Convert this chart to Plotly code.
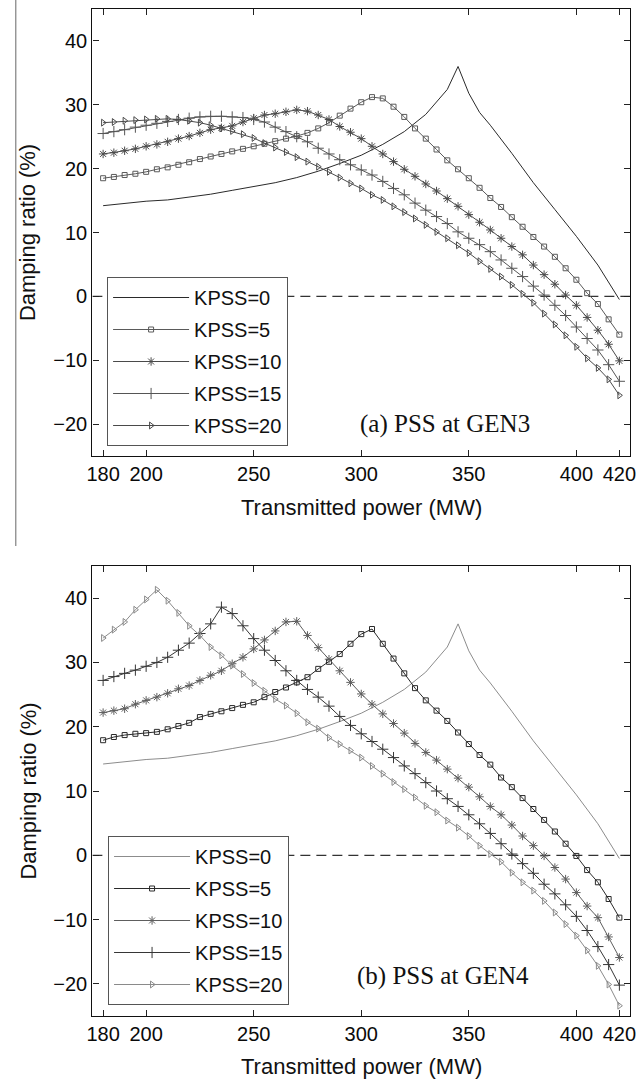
import plotly.graph_objects as go

# Transmitted power (MW) at the marked operating points
power = list(range(180, 425, 5))

# KPSS = 0 (no PSS) – same base case in both panels
power_k0 = [180, 190, 200, 210, 220, 230, 240, 250, 260, 270, 280, 290, 300, 310,
            320, 330, 340, 345, 350, 355, 360, 370, 380, 390, 400, 410, 420]
kpss0 = [14.2, 14.6, 14.9, 15.1, 15.5, 16.0, 16.6, 17.2, 17.8, 18.6, 19.6, 20.8, 22.1, 23.8,
         25.8, 28.5, 32.4, 36.0, 31.8, 28.8, 26.8, 22.4, 17.8, 13.6, 9.4, 4.9, -0.5]

# (a) PSS at GEN3 – damping ratio (%)
a_k5 = [18.5, 18.7, 19.0, 19.2, 19.5, 19.9, 20.2, 20.6, 21.0, 21.5, 21.9, 22.3, 22.7, 23.1, 23.5,
        23.9, 24.3, 24.7, 25.1, 25.6, 26.3, 27.2, 28.3, 29.4, 30.4,
        31.2, 31.0, 29.7, 28.1, 26.3, 24.7, 23.0, 21.3, 19.9, 18.5, 17.0, 15.4, 14.0, 12.4, 10.9,
        9.3, 7.8, 6.2, 4.4, 2.6, 0.5, -1.2, -3.6, -6.0]
a_k10 = [22.3, 22.5, 22.8, 23.1, 23.5, 23.8, 24.2, 24.7, 25.1, 25.6, 26.1, 26.4, 26.7, 27.3, 27.9,
         28.4, 28.6, 28.9, 29.2, 29.0, 28.4, 27.7, 26.6, 25.7, 24.7,
         23.5, 22.3, 21.1, 19.9, 18.8, 17.6, 16.5, 15.3, 14.1, 12.8, 11.6, 10.4, 9.1, 7.8, 6.5,
         4.9, 3.4, 1.9, 0.2, -1.4, -3.3, -5.3, -7.5, -10.1]
a_k15 = [25.5, 25.8, 26.1, 26.5, 26.8, 27.1, 27.4, 27.7, 27.9, 28.1, 28.2, 28.2, 28.1, 28.0, 27.7,
         27.3, 26.5, 25.8, 25.0, 24.2, 23.2, 22.3, 21.4, 20.6, 19.8,
         19.0, 18.0, 16.9, 15.9, 14.6, 13.5, 12.5, 11.4, 10.1, 9.1, 8.1, 7.0, 5.7, 4.4, 3.1,
         1.6, 0.2, -1.4, -3.0, -4.8, -6.6, -8.4, -10.7, -13.3]
a_k20 = [27.2, 27.3, 27.5, 27.6, 27.7, 27.8, 27.8, 27.7, 27.5, 27.2, 26.8, 26.3, 25.9, 25.4, 24.8,
         24.0, 23.3, 22.6, 21.8, 21.1, 20.3, 19.5, 18.6, 17.7, 16.9,
         15.9, 15.1, 14.1, 13.2, 12.2, 11.2, 10.1, 9.1, 8.0, 6.8, 5.5, 4.3, 3.1, 1.8, 0.4,
         -1.0, -2.7, -4.4, -6.1, -7.9, -9.7, -11.2, -13.0, -15.5]

# (b) PSS at GEN4 – damping ratio (%)
b_k5 = [17.9, 18.4, 18.7, 18.9, 19.0, 19.2, 19.6, 20.1, 20.6, 21.5, 22.0, 22.4, 22.9, 23.4, 23.8,
        24.6, 25.4, 26.1, 26.9, 27.7, 29.0, 30.1, 31.3, 32.9, 34.4,
        35.2, 32.9, 30.6, 28.3, 26.0, 24.1, 22.5, 20.9, 19.1, 17.3, 15.6, 14.1, 12.1, 10.6, 8.9,
        7.2, 5.5, 3.7, 1.8, -0.1, -2.3, -4.2, -6.8, -9.7]
b_k10 = [22.2, 22.5, 22.8, 23.5, 24.1, 24.6, 25.2, 25.9, 26.4, 27.2, 28.0, 28.7, 29.8, 30.8, 32.1,
         33.5, 34.9, 36.3, 36.4, 34.2, 32.3, 30.5, 28.7, 26.9, 25.1,
         23.5, 22.0, 20.5, 19.0, 17.4, 16.0, 14.8, 13.4, 12.0, 10.6, 9.1, 7.6, 6.3, 4.7, 3.0,
         1.5, -0.1, -1.9, -3.7, -5.8, -7.9, -9.7, -12.7, -15.9]
b_k15 = [27.2, 27.8, 28.3, 28.8, 29.4, 30.0, 30.8, 31.9, 33.0, 34.5, 36.0, 38.6, 37.6, 35.7, 33.7,
         31.9, 30.3, 28.7, 27.2, 25.8, 24.6, 23.2, 21.6, 20.2, 18.9,
         17.7, 16.5, 15.2, 13.9, 12.7, 11.3, 10.0, 8.8, 7.6, 6.3, 4.9, 3.4, 1.8, 0.2, -1.3,
         -2.8, -4.5, -6.0, -7.7, -9.5, -11.7, -14.2, -17.0, -20.2]
b_k20 = [33.8, 35.1, 36.3, 38.2, 39.8, 41.3, 39.6, 37.7, 35.7, 34.2, 32.4, 31.1, 29.5, 28.2, 26.8,
         25.6, 24.3, 23.3, 22.1, 20.7, 19.7, 18.3, 17.3, 16.3, 15.2,
         13.9, 12.7, 11.4, 10.3, 9.0, 7.7, 6.7, 5.4, 4.3, 3.0, 1.5, 0.2, -1.0, -2.7, -4.2,
         -5.5, -7.1, -8.9, -10.7, -12.5, -14.8, -17.2, -20.1, -23.4]

names = ["KPSS=0", "KPSS=5", "KPSS=10", "KPSS=15", "KPSS=20"]
x_ticks = [180, 200, 250, 300, 350, 400, 420]
y_ticks = [-20, -10, 0, 10, 20, 30, 40]

W, H = 644, 1082
SANS = "Liberation Sans, Arial, Helvetica, sans-serif"
SERIF = "Liberation Serif, Times New Roman, serif"


def fx(px):
    return px / W


def fy(py):
    return 1 - py / H


symbols = [None, "square-open", "asterisk-open", "cross-thin-open", "triangle-right-open"]
sizes = [0, 5, 7, 8, 6]

panels = [
    dict(series=[kpss0, a_k5, a_k10, a_k15, a_k20],
         colors=["#2a2a2a", "#5a5a5a", "#4a4a4a", "#555555", "#4a4a4a"],
         xa="x", ya="y", legend="legend"),
    dict(series=[kpss0, b_k5, b_k10, b_k15, b_k20],
         colors=["#8c8c8c", "#2a2a2a", "#5e5e5e", "#363636", "#8a8a8a"],
         xa="x2", ya="y2", legend="legend2"),
]

fig = go.Figure()
for panel in panels:
    for i, (name, vals) in enumerate(zip(names, panel["series"])):
        col = panel["colors"][i]
        xs = power_k0 if i == 0 else power
        tr = dict(x=xs, y=vals, name=name, xaxis=panel["xa"], yaxis=panel["ya"],
                  legend=panel["legend"], legendgroup=panel["legend"] + name,
                  line=dict(color=col, width=1.0))
        if i == 0:
            tr["mode"] = "lines"
        else:
            tr["mode"] = "lines+markers"
            tr["marker"] = dict(symbol=symbols[i], size=sizes[i], color=col,
                                line=dict(color=col, width=1))
        fig.add_trace(go.Scatter(**tr))

x_dom = [fx(88), fx(636)]
top_dom = [fy(456), fy(9)]
bot_dom = [fy(1016), fy(566)]

axis_common = dict(showline=True, linecolor="#111111", linewidth=1.4, mirror="allticks",
                   ticks="inside", ticklen=6, tickwidth=1, tickcolor="#222222",
                   showgrid=False, zeroline=False,
                   tickfont=dict(family=SANS, size=20, color="#0a0a0a"))

fig.update_layout(
    width=W, height=H,
    margin=dict(l=0, r=0, t=0, b=0),
    paper_bgcolor="white", plot_bgcolor="white",
    xaxis=dict(domain=x_dom, anchor="y", range=[175, 425], tickvals=x_ticks, **axis_common),
    yaxis=dict(domain=top_dom, anchor="x", range=[-25, 45], tickvals=y_ticks, **axis_common),
    xaxis2=dict(domain=x_dom, anchor="y2", range=[175, 425], tickvals=x_ticks, **axis_common),
    yaxis2=dict(domain=bot_dom, anchor="x2", range=[-25, 45], tickvals=y_ticks, **axis_common),
)

legend_common = dict(xanchor="left", yanchor="top", bgcolor="white",
                     bordercolor="#555555", borderwidth=1,
                     font=dict(family=SANS, size=20, color="#111111"),
                     traceorder="grouped", tracegroupgap=3, itemwidth=76)
fig.update_layout(
    legend=dict(x=fx(103), y=fy(277), **legend_common),
    legend2=dict(x=fx(104), y=fy(836), **legend_common),
)

shapes = []
for xr, yr in (("x", "y"), ("x2", "y2")):
    shapes.append(dict(type="line", xref=xr, yref=yr, x0=175, x1=425, y0=0, y1=0,
                       line=dict(color="#333333", width=1.2, dash="10px,6px"), layer="below"))
# thin column rule at the far left of the upper half
shapes.append(dict(type="line", xref="paper", yref="paper", x0=fx(10), x1=fx(10),
                   y0=1, y1=fy(546), line=dict(color="#666666", width=1)))
fig.update_layout(shapes=shapes)

annotations = [
    dict(text="(a) PSS at GEN3", x=339, y=-20, xref="x", yref="y", showarrow=False,
         font=dict(family=SERIF, size=25, color="#111111")),
    dict(text="(b) PSS at GEN4", x=338, y=-18.8, xref="x2", yref="y2", showarrow=False,
         font=dict(family=SERIF, size=25, color="#111111")),
]
for cy_title, cy_x in ((232.5, 507), (791, 1066)):
    annotations.append(dict(text="Damping ratio (%)", x=fx(22), y=fy(cy_title),
                            xref="paper", yref="paper", textangle=-90, showarrow=False,
                            xanchor="center", yanchor="middle",
                            font=dict(family=SANS, size=22, color="#111111")))
    annotations.append(dict(text="Transmitted power (MW)", x=fx(362), y=fy(cy_x),
                            xref="paper", yref="paper", showarrow=False,
                            xanchor="center", yanchor="middle",
                            font=dict(family=SANS, size=22, color="#111111")))
fig.update_layout(annotations=annotations)

fig.write_html("out.html")
